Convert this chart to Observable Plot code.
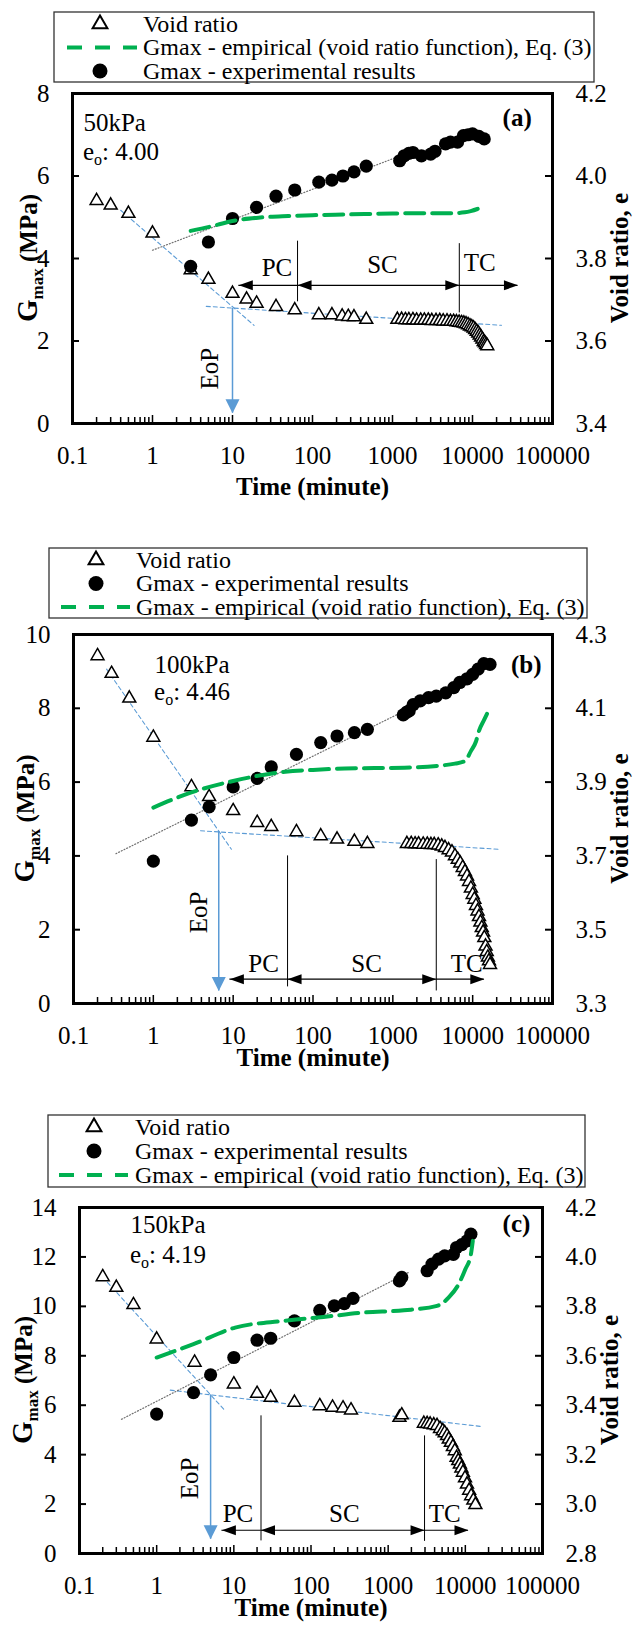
<!DOCTYPE html>
<html><head><meta charset="utf-8">
<script src="https://cdn.jsdelivr.net/npm/d3@7"></script>
<script src="https://cdn.jsdelivr.net/npm/@observablehq/plot@0.6"></script>
<style>
body{margin:0;background:#fff;}
#root{position:relative;width:633px;height:1626px;overflow:hidden;background:#fff;}
#root svg{position:absolute;left:0;}
</style></head><body><div id="root"></div>
<script>
// ---------- shared ticks / labels ----------
const timeTicks = [0.1, 1, 10, 100, 1000, 10000, 100000];
const stageNames = ["PC", "SC", "TC"];
const legendLabels = {
  void: "Void ratio",
  exp: "Gmax - experimental results",
  emp: "Gmax - empirical (void ratio function), Eq. (3)"
};
const legendOrderA = ["void", "emp", "exp"];
const legendOrderBC = ["void", "exp", "emp"];

// ---------- panel (a) 50 kPa ----------
const a_gTicks = [0, 2, 4, 6, 8];
const a_eRange = [3.4, 4.2];
const a_voidTime = [0.2,0.3,0.5,1,3,5,10,15,20,35,60,120,175,235,280,330,470,1150,1300,1450,1600,1800,2000,2250,2500,2800,3100,3500,3900,4300,4800,5300,5800,6300,6800,7300,7800,8300,8800,9300,9800,10300,10800,11300,11800,12300,12800,13300,13800,14300,14800,15300];
const a_voidRatio = [3.940,3.929,3.909,3.861,3.772,3.749,3.715,3.701,3.691,3.683,3.675,3.663,3.663,3.660,3.659,3.658,3.652,3.652,3.652,3.651,3.651,3.651,3.650,3.650,3.650,3.650,3.649,3.649,3.649,3.648,3.648,3.647,3.647,3.646,3.645,3.644,3.643,3.641,3.639,3.636,3.634,3.631,3.627,3.623,3.619,3.614,3.609,3.604,3.598,3.595,3.591,3.588];
const a_gTime = [3,5,10,20,35,60,120,175,240,330,470,1230,1400,1600,1800,2300,3000,3400,4600,5300,6500,7700,8800,10000,12000,14000];
const a_gmax = [3.81,4.40,4.97,5.24,5.51,5.66,5.85,5.90,6.00,6.10,6.24,6.37,6.49,6.55,6.57,6.49,6.53,6.60,6.78,6.82,6.82,6.98,7.00,7.02,6.96,6.90];
const a_empTime = [3,5.2,10,21,50,100,300,1000,3000,5800,8000,9500,11500,14000];
const a_emp = [4.67,4.77,4.91,4.99,5.03,5.05,5.07,5.09,5.10,5.10,5.12,5.15,5.20,5.27];
const a_trendTime = [1, 1300];
const a_trend = [4.2, 6.5];
const a_primaryTime = [0.4, 18.6];
const a_primaryE = [3.917, 3.638];
const a_secondaryTime = [4.7, 23000];
const a_secondaryE = [3.684, 3.638];
const a_eopTime = 10;
const a_eopG = [2.79, 0.25];
const a_eopLabel = [5.3, 1.33];
const a_stageTime = [12, 65, 6840, 37000];
const a_stageG = 3.35;
const a_stageLineBottom = [2.95, 2.68];
const a_stageLineTop = [4.42, 4.36];
const a_stageLabelTime = [36, 750, 12300];
const a_stageLabelG = [3.76, 3.84, 3.90];
const a_pressure = "50kPa", a_e0 = "4.00", a_tag = "(a)";
const a_textPos = {t: 0.137, gP: 7.10, gE: 6.38, tTag: 55000, gTag: 7.22};

// ---------- panel (b) 100 kPa ----------
const b_gTicks = [0, 2, 4, 6, 8, 10];
const b_eRange = [3.3, 4.3];
const b_voidTime = [0.2,0.3,0.5,1,3,5,10,20,30,62,125,200,330,480,1500,1700,1900,2100,2400,2700,3000,3300,3700,4100,4500,5000,5500,6000,6500,7000,7500,8000,8500,9000,9500,10000,10500,11000,11500,12000,12500,13000,13500,14000,14500,15000,15500,16000,16500];
const b_voidRatio = [4.242,4.194,4.127,4.021,3.887,3.860,3.822,3.790,3.779,3.765,3.754,3.745,3.739,3.733,3.733,3.733,3.732,3.732,3.731,3.731,3.730,3.730,3.729,3.726,3.722,3.716,3.710,3.700,3.690,3.680,3.668,3.657,3.645,3.630,3.612,3.595,3.582,3.565,3.550,3.535,3.520,3.505,3.493,3.478,3.455,3.440,3.425,3.415,3.405];
const b_gTime = [1,3,5,10,20,30,62,125,200,330,480,1350,1500,1600,1800,2200,2800,3500,4600,5800,6900,8500,10000,11700,13800,16500];
const b_gmax = [3.86,4.97,5.33,5.87,6.10,6.41,6.75,7.07,7.25,7.34,7.43,7.82,7.90,7.93,8.10,8.20,8.29,8.33,8.42,8.56,8.70,8.80,8.92,9.06,9.21,9.19];
const b_empTime = [1,3,10,45,100,250,1400,3600,6000,8000,9500,11000,12000,14000,16500];
const b_emp = [5.31,5.72,6.03,6.28,6.33,6.37,6.39,6.44,6.50,6.57,6.84,7.10,7.39,7.70,8.02];
const b_trendTime = [0.34, 1400];
const b_trend = [4.06, 7.93];
const b_primaryTime = [0.26, 9.5];
const b_primaryE = [4.206, 3.718];
const b_secondaryTime = [3.9, 21000];
const b_secondaryE = [3.768, 3.718];
const b_eopTime = 6.6;
const b_eopG = [4.66, 0.34];
const b_eopLabel = [3.7, 2.47];
const b_stageTime = [9.1, 48, 3500, 14000];
const b_stageG = 0.66;
const b_stageLineBottom = [0.45, 0.34];
const b_stageLineTop = [4.0, 3.9];
const b_stageLabelTime = [24, 470, 8400];
const b_stageLabelG = [1.07, 1.07, 1.07];
const b_pressure = "100kPa", b_e0 = "4.46", b_tag = "(b)";
const b_textPos = {t: 1.035, gP: 8.97, gE: 8.21, tTag: 73000, gTag: 8.97};

// ---------- panel (c) 150 kPa ----------
const c_gTicks = [0, 2, 4, 6, 8, 10, 12, 14];
const c_eRange = [2.8, 4.2];
const c_voidTime = [0.2,0.3,0.5,1,3.1,10,20,30,61,130,190,260,330,1400,1500,2900,3200,3500,3900,4300,4700,5100,5400,5800,6100,6500,6900,7300,7700,8100,8500,8900,9300,9900,10500,11200,11900,12700,13500];
const c_voidRatio = [3.919,3.876,3.806,3.667,3.573,3.485,3.447,3.431,3.411,3.397,3.391,3.388,3.380,3.350,3.360,3.326,3.325,3.323,3.320,3.317,3.305,3.296,3.288,3.276,3.262,3.249,3.232,3.215,3.188,3.175,3.161,3.145,3.128,3.105,3.080,3.055,3.033,3.015,2.997];
const c_gTime = [1,3,5,10,20,30,61,130,200,270,350,1400,1500,3200,3700,4500,5400,7000,7700,9000,10500,11800];
const c_gmax = [5.64,6.51,7.23,7.93,8.63,8.71,9.41,9.84,10.02,10.11,10.32,11.03,11.17,11.44,11.71,11.91,12.04,12.10,12.38,12.50,12.65,12.92];
const c_empTime = [1,3,10.4,44,145,480,1600,4300,6100,8200,10000,11800,12500];
const c_emp = [7.93,8.47,9.14,9.41,9.57,9.75,9.84,10.02,10.36,10.90,11.50,12.10,12.65];
const c_trendTime = [0.35, 1830];
const c_trend = [5.43, 11.37];
const c_primaryTime = [0.23, 7.6];
const c_primaryE = [3.897, 3.38];
const c_secondaryTime = [1.5, 17000];
const c_secondaryE = [3.461, 3.313];
const c_eopTime = 5.0;
const c_eopG = [6.42, 0.58];
const c_eopLabel = [2.74, 3.04];
const c_stageTime = [7.0, 22.5, 2960, 11000];
const c_stageG = 0.94;
const c_stageLineBottom = [0.51, 0.49];
const c_stageLineTop = [5.57, 4.76];
const c_stageLabelTime = [11.3, 270, 5400];
const c_stageLabelG = [1.59, 1.59, 1.59];
const c_pressure = "150kPa", c_e0 = "4.19", c_tag = "(c)";
const c_textPos = {t: 0.458, gP: 12.95, gE: 11.74, tTag: 69500, gTag: 12.99};

// ---------- styling / layout ----------
const FONT = "'Liberation Serif', 'Times New Roman', serif";
const GREEN = "#00b050", BLUE = "#5b9bd5";
const headLeft = {draw(c){ c.moveTo(0,0); c.lineTo(14,-5); c.lineTo(14,5); c.closePath(); }};
const headRight = {draw(c){ c.moveTo(0,0); c.lineTo(-14,-5); c.lineTo(-14,5); c.closePath(); }};
const headDown = {draw(c){ c.moveTo(0,0); c.lineTo(-7,-14); c.lineTo(7,-14); c.closePath(); }};

const panels = [
  {top: 0, h: 510, ml: 72, mr: 81, mt: 93, mb: 87, titleDy: 71, gTicks: a_gTicks, eRange: a_eRange,
   voidTime: a_voidTime, voidRatio: a_voidRatio, gTime: a_gTime, gmax: a_gmax, empTime: a_empTime, emp: a_emp,
   trendTime: a_trendTime, trend: a_trend, primaryTime: a_primaryTime, primaryE: a_primaryE,
   secondaryTime: a_secondaryTime, secondaryE: a_secondaryE, eopTime: a_eopTime, eopG: a_eopG, eopLabel: a_eopLabel,
   stageTime: a_stageTime, stageG: a_stageG, stageLineBottom: a_stageLineBottom, stageLineTop: a_stageLineTop,
   stageLabelTime: a_stageLabelTime, stageLabelG: a_stageLabelG, pressure: a_pressure, e0: a_e0, tag: a_tag, textPos: a_textPos,
   legend: {order: legendOrderA, x0: 54, x1: 594, y0: 12, y1: 82, sym: 100, d0: 67, d1: 137, tx: 143, rows: [24, 47.5, 71]},
   yLabelX: 28, eLabelX: 619},
  {top: 510, h: 565, ml: 73, mr: 81, mt: 124, mb: 72, titleDy: 62, gTicks: b_gTicks, eRange: b_eRange,
   voidTime: b_voidTime, voidRatio: b_voidRatio, gTime: b_gTime, gmax: b_gmax, empTime: b_empTime, emp: b_emp,
   trendTime: b_trendTime, trend: b_trend, primaryTime: b_primaryTime, primaryE: b_primaryE,
   secondaryTime: b_secondaryTime, secondaryE: b_secondaryE, eopTime: b_eopTime, eopG: b_eopG, eopLabel: b_eopLabel,
   stageTime: b_stageTime, stageG: b_stageG, stageLineBottom: b_stageLineBottom, stageLineTop: b_stageLineTop,
   stageLabelTime: b_stageLabelTime, stageLabelG: b_stageLabelG, pressure: b_pressure, e0: b_e0, tag: b_tag, textPos: b_textPos,
   legend: {order: legendOrderBC, x0: 49, x1: 587, y0: 38, y1: 108, sym: 96, d0: 61, d1: 130, tx: 136, rows: [50, 73.5, 97]},
   yLabelX: 25, eLabelX: 619},
  {top: 1075, h: 551, ml: 79, mr: 91, mt: 132, mb: 73, titleDy: 62, gTicks: c_gTicks, eRange: c_eRange,
   voidTime: c_voidTime, voidRatio: c_voidRatio, gTime: c_gTime, gmax: c_gmax, empTime: c_empTime, emp: c_emp,
   trendTime: c_trendTime, trend: c_trend, primaryTime: c_primaryTime, primaryE: c_primaryE,
   secondaryTime: c_secondaryTime, secondaryE: c_secondaryE, eopTime: c_eopTime, eopG: c_eopG, eopLabel: c_eopLabel,
   stageTime: c_stageTime, stageG: c_stageG, stageLineBottom: c_stageLineBottom, stageLineTop: c_stageLineTop,
   stageLabelTime: c_stageLabelTime, stageLabelG: c_stageLabelG, pressure: c_pressure, e0: c_e0, tag: c_tag, textPos: c_textPos,
   legend: {order: legendOrderBC, x0: 48, x1: 585, y0: 40, y1: 112, sym: 94, d0: 59, d1: 128, tx: 135, rows: [52, 76, 100]},
   yLabelX: 23, eLabelX: 609}
];

function render(p) {
  const W = 633;
  const plotW = W - p.ml - p.mr;
  const plotH = p.h - p.mt - p.mb;
  const gMax = p.gTicks[p.gTicks.length - 1];
  const [eMin, eMax] = p.eRange;
  const toG = e => (e - eMin) / (eMax - eMin) * gMax;
  const toE = g => eMin + g / gMax * (eMax - eMin);
  const voidPts = p.voidTime.map((t, i) => ({t, g: toG(p.voidRatio[i])}));
  const gPts = p.gTime.map((t, i) => ({t, g: p.gmax[i]}));
  const empPts = p.empTime.map((t, i) => ({t, g: p.emp[i]}));
  const trendPts = p.trendTime.map((t, i) => ({t, g: p.trend[i]}));
  const primPts = p.primaryTime.map((t, i) => ({t, g: toG(p.primaryE[i])}));
  const secPts = p.secondaryTime.map((t, i) => ({t, g: toG(p.secondaryE[i])}));
  const minor = [];
  timeTicks.slice(0, -1).forEach(d => { for (let k = 2; k < 10; k++) minor.push(d * k); });
  const major = timeTicks.slice(1, -1);
  const innerG = p.gTicks.slice(1, -1);
  const st = p.stageTime;
  const segs = [0, 1, 2].map(i => ({x1: st[i], x2: st[i + 1], g: p.stageG}));
  const leftHeads = [st[0], st[1]].map(t => ({t, g: p.stageG}));
  const rightHeads = [st[2], st[3]].map(t => ({t, g: p.stageG}));
  const stageLines = [1, 2].map((j, i) => ({t: st[j], g1: p.stageLineBottom[i], g2: p.stageLineTop[i]}));
  const stageLabels = p.stageLabelTime.map((t, i) => ({t, g: p.stageLabelG[i], label: stageNames[i]}));
  const eop = [{t: p.eopTime, g1: p.eopG[0], g2: p.eopG[1]}];
  const tp = p.textPos;

  const plot = Plot.plot({
    width: W, height: p.h,
    marginLeft: p.ml, marginRight: p.mr, marginTop: p.mt, marginBottom: p.mb,
    style: {fontFamily: FONT, fontSize: "25px", background: "white", overflow: "visible", color: "black"},
    x: {type: "log", domain: [timeTicks[0], timeTicks[timeTicks.length - 1]]},
    y: {domain: [0, gMax]},
    marks: [
      Plot.line(primPts, {x: "t", y: "g", stroke: BLUE, strokeWidth: 1.1, strokeDasharray: "4,3"}),
      Plot.line(secPts, {x: "t", y: "g", stroke: BLUE, strokeWidth: 1.1, strokeDasharray: "4,3"}),
      Plot.line(trendPts, {x: "t", y: "g", stroke: "#707070", strokeWidth: 1.2, strokeDasharray: "1,2"}),
      Plot.ruleX(stageLines, {x: "t", y1: "g1", y2: "g2", stroke: "black", strokeWidth: 1}),
      Plot.ruleY(segs, {y: "g", x1: "x1", x2: "x2", stroke: "black", strokeWidth: 1.2}),
      Plot.dot(leftHeads, {x: "t", y: "g", symbol: headLeft, fill: "black"}),
      Plot.dot(rightHeads, {x: "t", y: "g", symbol: headRight, fill: "black"}),
      Plot.text(stageLabels, {x: "t", y: "g", text: "label", fontSize: 25, fill: "black"}),
      Plot.ruleX(eop, {x: "t", y1: "g1", y2: "g2", stroke: BLUE, strokeWidth: 1.5}),
      Plot.dot(eop, {x: "t", y: "g2", symbol: headDown, fill: BLUE}),
      Plot.text([{t: p.eopLabel[0], g: p.eopLabel[1]}], {x: "t", y: "g", text: () => "EoP", rotate: -90, fontSize: 25, fill: "black"}),
      Plot.dot(voidPts, {x: "t", y: "g", symbol: "triangle", r: 4.8, fill: "white", stroke: "black", strokeWidth: 1.5}),
      Plot.dot(gPts, {x: "t", y: "g", r: 6.6, fill: "black"}),
      Plot.line(empPts, {x: "t", y: "g", stroke: GREEN, strokeWidth: 4, strokeDasharray: "19,8", curve: "monotone-x"}),
      Plot.text([{t: tp.t, g: tp.gP, s: p.pressure}], {x: "t", y: "g", text: "s", textAnchor: "start", lineAnchor: "bottom", fontSize: 25, fill: "black"}),
      Plot.text([{t: tp.tTag, g: tp.gTag, s: p.tag}], {x: "t", y: "g", text: "s", textAnchor: "end", lineAnchor: "bottom", fontSize: 25, fontWeight: "bold", fill: "black"}),
      Plot.ruleX(minor, {x: d => d, insetTop: plotH - 6, stroke: "black", strokeWidth: 1.5}),
      Plot.ruleX(major, {x: d => d, insetTop: plotH - 8, stroke: "black", strokeWidth: 1.5}),
      Plot.ruleY(innerG, {y: d => d, insetRight: plotW - 7, stroke: "black", strokeWidth: 2}),
      Plot.ruleY(innerG, {y: d => d, insetLeft: plotW - 7, stroke: "black", strokeWidth: 2}),
      Plot.frame({stroke: "black", strokeWidth: 3}),
      Plot.axisX({ticks: timeTicks, tickSize: 0, tickPadding: 23, tickFormat: d => String(d), label: null, fontSize: 25}),
      Plot.axisY({ticks: p.gTicks, tickSize: 0, tickPadding: 23, tickFormat: d => String(d), label: null, fontSize: 25}),
      Plot.axisY({anchor: "right", ticks: p.gTicks, tickSize: 0, tickPadding: 23, tickFormat: g => toE(g).toFixed(1), label: null, fontSize: 25}),
      Plot.text(["Time (minute)"], {frameAnchor: "bottom", dy: p.titleDy, text: d => d, fontWeight: "bold", fontSize: 25, fill: "black"})
    ]
  });

  const svg = d3.select(plot).style("top", p.top + "px");
  const sx = plot.scale("x"), sy = plot.scale("y");
  // e_o text
  const et = svg.append("text").attr("x", sx.apply(tp.t)).attr("y", sy.apply(tp.gE))
    .attr("text-anchor", "start").attr("font-family", FONT).attr("font-size", 25).attr("fill", "black");
  et.append("tspan").text("e");
  et.append("tspan").attr("font-size", 16).attr("dy", 5).text("o");
  et.append("tspan").attr("dy", -5).text(": " + p.e0);
  // axis titles
  const cy = p.mt + plotH / 2;
  const yl = svg.append("text").attr("transform", `translate(${p.yLabelX},${cy}) rotate(-90)`)
    .attr("text-anchor", "middle").attr("dy", "0.35em").attr("font-family", FONT).attr("font-weight", "bold").attr("fill", "black");
  yl.append("tspan").attr("font-size", 29).text("G");
  yl.append("tspan").attr("font-size", 17).attr("dy", 6).text("max");
  yl.append("tspan").attr("font-size", 25).attr("dy", -6).text(" (MPa)");
  svg.append("text").attr("transform", `translate(${p.eLabelX},${cy}) rotate(-90)`)
    .attr("text-anchor", "middle").attr("dy", "0.35em").attr("font-family", FONT).attr("font-weight", "bold")
    .attr("font-size", 25).attr("fill", "black").text("Void ratio, e");
  // legend
  const L = p.legend;
  const lg = svg.append("g");
  lg.append("rect").attr("x", L.x0).attr("y", L.y0).attr("width", L.x1 - L.x0).attr("height", L.y1 - L.y0)
    .attr("fill", "white").attr("stroke", "#333").attr("stroke-width", 1.3);
  L.order.forEach((k, i) => {
    const y = L.rows[i];
    if (k === "void") {
      lg.append("path").attr("d", d3.symbol(d3.symbolTriangle, 95)()).attr("transform", `translate(${L.sym},${y})`)
        .attr("fill", "white").attr("stroke", "black").attr("stroke-width", 2);
    } else if (k === "exp") {
      lg.append("circle").attr("cx", L.sym).attr("cy", y).attr("r", 7.5).attr("fill", "black");
    } else {
      lg.append("line").attr("x1", L.d0).attr("x2", L.d1).attr("y1", y).attr("y2", y)
        .attr("stroke", GREEN).attr("stroke-width", 4).attr("stroke-dasharray", "15,13");
    }
    lg.append("text").attr("x", L.tx).attr("y", y).attr("dy", "0.33em").attr("text-anchor", "start")
      .attr("font-family", FONT).attr("font-size", 24).attr("fill", "black").text(legendLabels[k]);
  });
  document.getElementById("root").appendChild(plot);
}

panels.forEach(render);
</script>
</body></html>
